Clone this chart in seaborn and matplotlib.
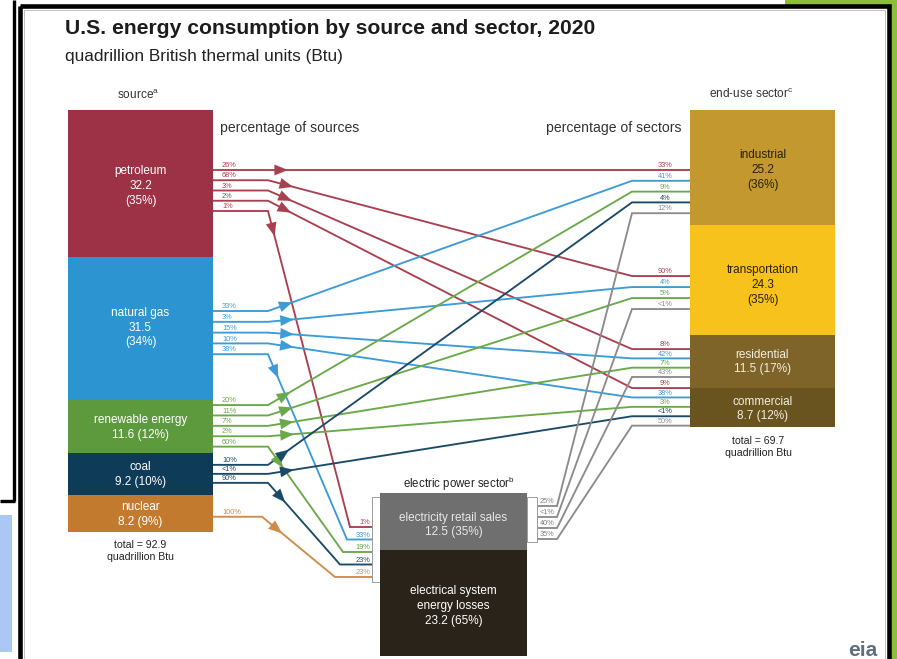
import matplotlib
matplotlib.use("Agg")
import matplotlib.pyplot as plt
from matplotlib.patches import Rectangle
import numpy as np
import seaborn as sns

# ---------------- data (quadrillion Btu, 2020) ----------------
sources = ["petroleum", "natural gas", "renewable energy", "coal", "nuclear"]
source_values = [32.2, 31.5, 11.6, 9.2, 8.2]
source_pct = [35, 34, 12, 10, 9]
source_total = 92.9

sectors = ["industrial", "transportation", "residential", "commercial"]
sector_values = [25.2, 24.3, 11.5, 8.7]
sector_pct = [36, 35, 17, 12]
sector_total = 69.7

electric_parts = ["electricity retail sales", "electrical system\nenergy losses"]
electric_values = [12.5, 23.2]
electric_pct = [35, 65]

# flows: origin, destination, share of origin, share of destination
flow_from = ["petroleum", "petroleum", "petroleum", "petroleum", "petroleum",
             "natural gas", "natural gas", "natural gas", "natural gas", "natural gas",
             "renewable energy", "renewable energy", "renewable energy", "renewable energy", "renewable energy",
             "coal", "coal", "coal",
             "nuclear",
             "electric", "electric", "electric", "electric"]
flow_to = ["industrial", "transportation", "residential", "commercial", "electric",
           "industrial", "transportation", "residential", "commercial", "electric",
           "industrial", "transportation", "residential", "commercial", "electric",
           "industrial", "commercial", "electric",
           "electric",
           "industrial", "transportation", "residential", "commercial"]
share_of_origin = ["26%", "68%", "3%", "2%", "1%",
                   "33%", "3%", "15%", "10%", "38%",
                   "20%", "11%", "7%", "2%", "60%",
                   "10%", "<1%", "90%",
                   "100%",
                   "25%", "<1%", "40%", "35%"]
share_of_destination = ["33%", "90%", "8%", "9%", "1%",
                        "41%", "4%", "42%", "38%", "33%",
                        "9%", "5%", "7%", "3%", "19%",
                        "4%", "<1%", "23%",
                        "23%",
                        "12%", "<1%", "43%", "50%"]

# ---------------- styling ----------------
source_colors = ["#9d3145", "#2d94d2", "#5d9a3e", "#0e3b58", "#c27a2f"]
line_colors = {"petroleum": "#a9404f", "natural gas": "#3d9bd6",
               "renewable energy": "#6aa94a", "coal": "#1b4a68",
               "nuclear": "#cf8b4c", "electric": "#8c8c8c"}
sector_colors = ["#c3992f", "#f6c21b", "#7e6428", "#69531f"]
sector_text = ["#2a2008", "#2a2008", "#f3eedf", "#f3eedf"]
electric_colors = ["#6f6f6f", "#29231a"]

sns.set_theme(style="white")
plt.rcParams["font.family"] = ["Liberation Sans", "DejaVu Sans"]

W, H = 897, 659
fig = plt.figure(figsize=(W / 100, H / 100), dpi=100)
ax = fig.add_axes([0, 0, 1, 1])
ax.set_xlim(0, W)
ax.set_ylim(H, 0)
ax.axis("off")

# ---------------- layout ----------------
bar_top = 110
scale = 423 / source_total          # pixels per quadrillion Btu
src_x, src_w = 68, 145
sec_x, sec_w = 690, 145
ele_x, ele_w, ele_top = 380, 147, 493
src_break, end_break = 268, 632

src_tops = bar_top + scale * np.concatenate([[0], np.cumsum(source_values)[:-1]])
sec_tops = bar_top + scale * np.concatenate([[0], np.cumsum(sector_values)[:-1]])
ele_tops = ele_top + scale * np.concatenate([[0], np.cumsum(electric_values)[:-1]])

# where the first flow line leaves / enters each block, and the line spacing
slot_start = {"petroleum": 60, "natural gas": 54.4, "renewable energy": 5,
              "coal": 12, "nuclear": 22,
              "industrial": 60, "transportation": 51.3, "residential": 13.7,
              "commercial": 0.3}
slot_step = {"petroleum": 10.25, "natural gas": 10.8, "renewable energy": 10.4,
             "coal": 9, "nuclear": 10,
             "industrial": 10.8, "transportation": 11, "residential": 9.3,
             "commercial": 9.4}
node_top = dict(zip(sources, src_tops))
node_top.update(dict(zip(sectors, sec_tops)))
elec_in_start, elec_in_step = ele_top + 34, 12.5
elec_out_start, elec_out_step = ele_top + 13, 11
elec_join_x = {"petroleum": 350, "natural gas": 347, "renewable energy": 343,
               "coal": 340, "nuclear": 335}

out_count, in_count = {}, {}


def next_out(node):
    i = out_count.get(node, 0)
    out_count[node] = i + 1
    if node == "electric":
        return elec_out_start + i * elec_out_step
    return node_top[node] + slot_start[node] + i * slot_step[node]


def next_in(node):
    i = in_count.get(node, 0)
    in_count[node] = i + 1
    if node == "electric":
        return elec_in_start + i * elec_in_step
    return node_top[node] + slot_start[node] + i * slot_step[node]


small = dict(fontsize=5.3, va="center")

for f, t, so, sd in zip(flow_from, flow_to, share_of_origin, share_of_destination):
    c = line_colors[f]
    ys = next_out(f)
    yt = next_in(t)
    if f == "electric":
        xs = [ele_x + ele_w + 10, 557, end_break, sec_x]
        ax.text(540, ys - 4.3, so, color="#808080", ha="left", **small)
    else:
        xb = 262 if f == "nuclear" else src_break
        if t == "electric":
            xs = [src_x + src_w, xb, elec_join_x[f], 372]
        else:
            xs = [src_x + src_w, xb, end_break, sec_x]
        ax.text(222, ys - 4.3, so, color=c, ha="left", **small)
    pts_y = [ys, ys, yt, yt]
    ax.plot(xs, pts_y, color=c, lw=1.35, solid_capstyle="butt",
            solid_joinstyle="miter", zorder=2)
    # arrowhead along the slanted leg
    if f != "electric":
        x1, y1, x2, y2 = xs[1], ys, xs[2], yt
        d = np.array([x2 - x1, y2 - y1], dtype=float)
        d /= np.hypot(*d)
        px = x1 + d[0] * 18 if ys != yt else 280
        py = y1 + d[1] * 18
        ax.annotate("", xy=(px + d[0] * 8, py + d[1] * 8), xytext=(px, py),
                    arrowprops=dict(arrowstyle="-|>,head_length=0.8,head_width=0.32",
                                    color=c, lw=0.1, shrinkA=0, shrinkB=0),
                    zorder=3)
    if t == "electric":
        ax.text(370, yt - 4.3, sd, color=c, ha="right", **small)
    else:
        ax.text(665, yt - 4.3, sd, color=c, ha="center", **small)

# ---------------- stacked blocks ----------------
ax.bar(src_x + src_w / 2, np.array(source_values) * scale, bottom=src_tops,
       width=src_w, color=source_colors, linewidth=0, zorder=4)
ax.bar(sec_x + sec_w / 2, np.array(sector_values) * scale, bottom=sec_tops,
       width=sec_w, color=sector_colors, linewidth=0, zorder=4)
ax.bar(ele_x + ele_w / 2, np.array(electric_values) * scale, bottom=ele_tops,
       width=ele_w, color=electric_colors, linewidth=0, zorder=4)

# small frames where the flows enter / leave the electric power block
ax.add_patch(Rectangle((372, 497), 8, 85, facecolor="white", edgecolor="#9a9a9a",
                       lw=0.7, zorder=3))
ax.add_patch(Rectangle((ele_x + ele_w, 497), 10, 45, facecolor="white",
                       edgecolor="#9a9a9a", lw=0.7, zorder=3))

lab = dict(fontsize=8.5, ha="center", va="center", zorder=5, linespacing=1.3)
src_cx = src_x + src_w / 2
for name, v, p, top, h in zip(sources, source_values, source_pct, src_tops,
                              np.array(source_values) * scale):
    if h > 100:
        txt = f"{name}\n{v}\n({p}%)"
        cy = top + 76 if name == "petroleum" else top + 71
    else:
        txt = f"{name}\n{v} ({p}%)"
        cy = top + h / 2 + 1
    ax.text(src_cx, cy, txt, color="white", **lab)

sec_cx = sec_x + sec_w / 2
sec_cy = [170, 285, 362, 409]
for name, v, p, cy, tc, h in zip(sectors, sector_values, sector_pct, sec_cy,
                                 sector_text, np.array(sector_values) * scale):
    txt = f"{name}\n{v}\n({p}%)" if h > 100 else f"{name}\n{v} ({p}%)"
    ax.text(sec_cx, cy, txt, color=tc, **lab)

ele_cx = ele_x + ele_w / 2
ax.text(ele_cx, 525, f"{electric_parts[0]}\n{electric_values[0]} ({electric_pct[0]}%)",
        color="#e8e8e8", **lab)
ax.text(ele_cx, 606, f"{electric_parts[1]}\n{electric_values[1]} ({electric_pct[1]}%)",
        color="white", **lab)

# ---------------- headings and totals ----------------
ax.text(65, 28, "U.S. energy consumption by source and sector, 2020",
        fontsize=15.2, fontweight="bold", color="#1c1c1c", va="center")
ax.text(65, 57, "quadrillion British thermal units (Btu)", fontsize=12.4,
        color="#222222", va="center")
ax.text(src_cx - 2, 95, r"source$^{\mathregular{a}}$", fontsize=8.6, color="#333333",
        ha="center", va="center")
ax.text(751, 94, r"end-use sector$^{\mathregular{c}}$", fontsize=8.6,
        color="#333333", ha="center", va="center")
ax.text(ele_cx + 5, 484, r"electric power sector$^{\mathregular{b}}$", fontsize=8.3,
        color="#222222", ha="center", va="center")
ax.text(220, 128, "percentage of sources", fontsize=10.1, color="#333333",
        va="center")
ax.text(682, 128, "percentage of sectors", fontsize=10.1, color="#333333",
        va="center", ha="right")
ax.text(src_cx, 551, f"total = {source_total}\nquadrillion Btu",
        fontsize=7.6, color="#222222", ha="center", va="center", linespacing=1.3)
ax.text(sec_cx - 4, 447, f"total = {sector_total}\nquadrillion Btu",
        fontsize=7.6, color="#222222", ha="center", va="center", linespacing=1.3)

# ---------------- surrounding frame ----------------
ax.add_patch(Rectangle((0, 515), 12, 137, facecolor="#a9c8f4", lw=0, zorder=1))
ax.plot([13.5, 13.5], [0, 501], color="black", lw=2.4, zorder=6,
        solid_capstyle="butt")
ax.plot([0, 15], [500.5, 500.5], color="black", lw=2.4, zorder=6,
        solid_capstyle="butt")
ax.add_patch(Rectangle((785, 0), 112, 5, facecolor="#8cbd3d", lw=0, zorder=1))
ax.add_patch(Rectangle((891, 0), 6, H, facecolor="#8cbd3d", lw=0, zorder=1))
ax.add_patch(Rectangle((20, 6.3), 868.5, 720, facecolor="none", edgecolor="black",
                       lw=3.3, zorder=6, clip_on=True))
ax.add_patch(Rectangle((23.5, 9.5), 861.5, 720, facecolor="none",
                       edgecolor="#b5b5b5", lw=0.6, zorder=6, clip_on=True))
ax.text(848, 656, "eia", fontsize=15, fontweight="bold", color="#5f6f7c",
        ha="left", va="baseline", zorder=6)

fig.savefig("out.png", dpi=100)
